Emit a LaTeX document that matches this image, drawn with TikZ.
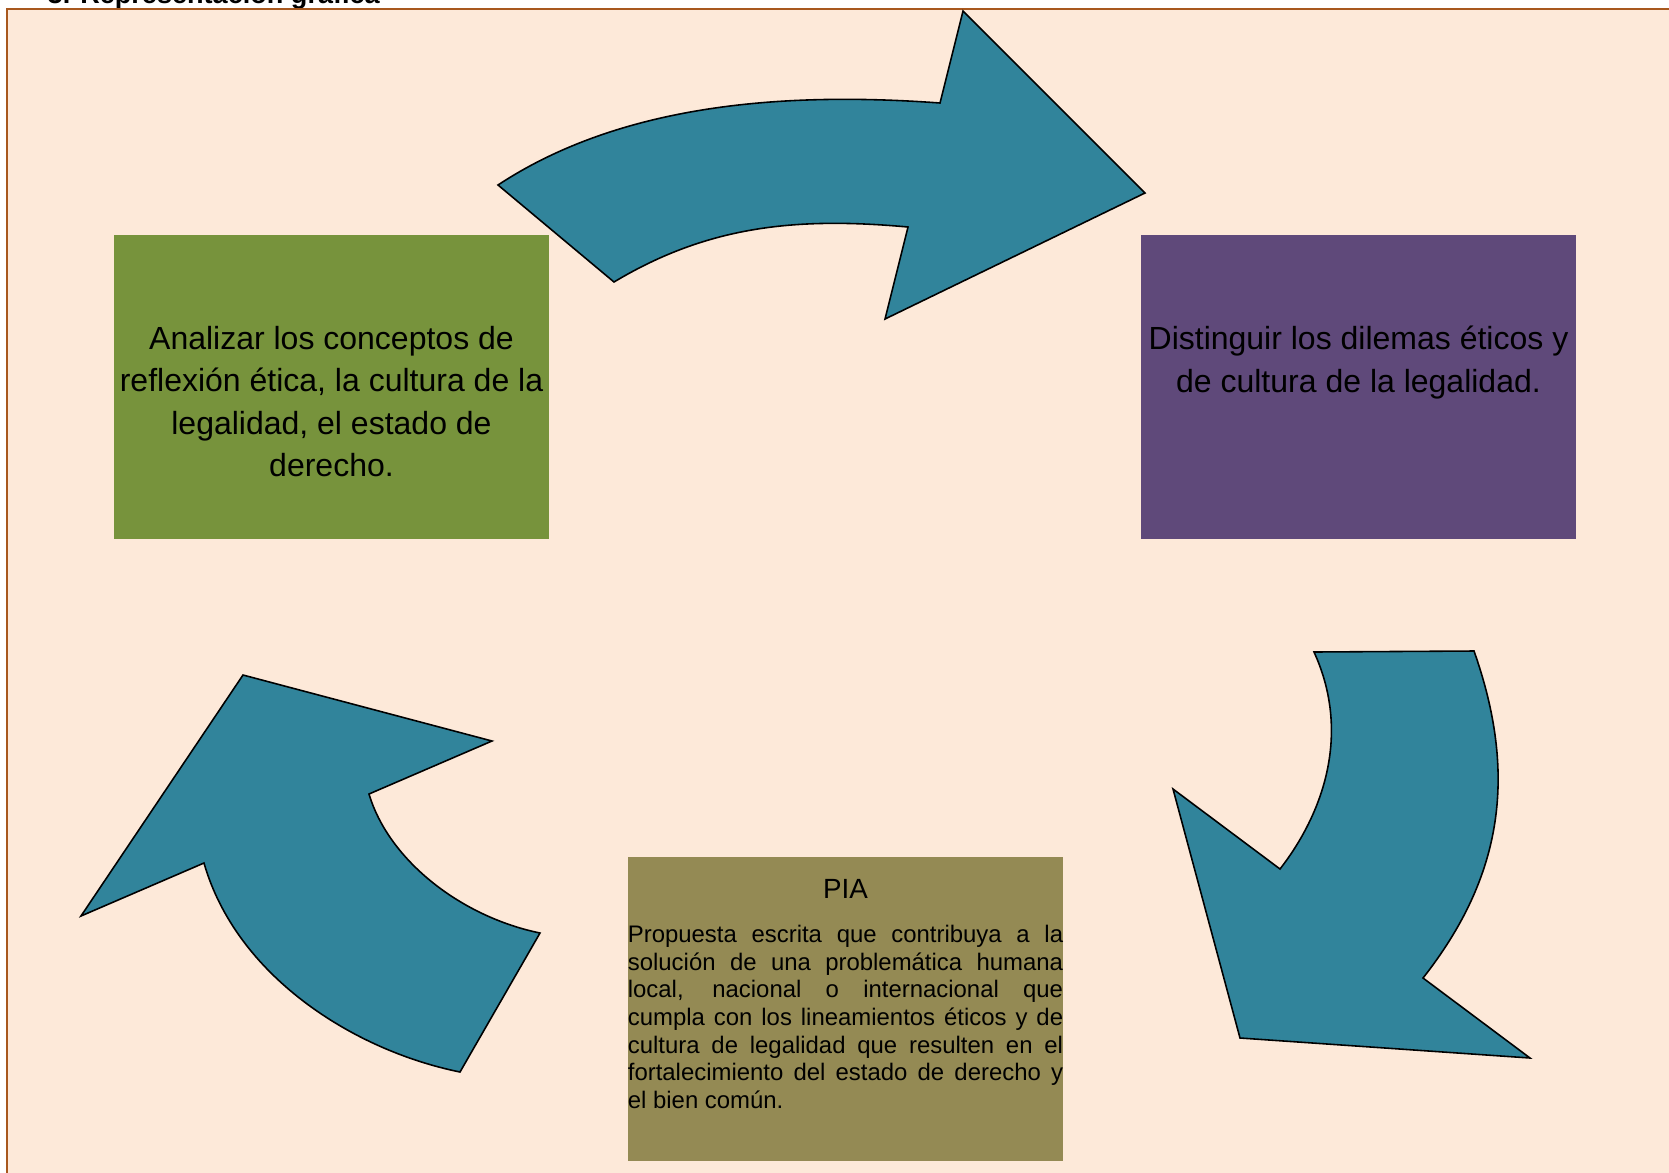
\documentclass[tikz,border=0pt]{standalone}
\usepackage{fontspec}
\setmainfont{Liberation Sans}
\usetikzlibrary{positioning}

\definecolor{fondo}{HTML}{FDE9D9}
\definecolor{marco}{HTML}{A8581E}
\definecolor{flecha}{HTML}{31849B}
\definecolor{verde}{HTML}{77933C}
\definecolor{morado}{HTML}{5F497A}
\definecolor{oliva}{HTML}{948A54}

\begin{document}
\begin{tikzpicture}[x=0.01cm, y=-0.01cm,
		caja/.style={rectangle, inner sep=0pt, minimum width=4.34cm, minimum height=3.04cm},
		flechas/.style={draw=black, fill=flecha, line width=0.45pt, line join=miter},
		texto/.style={inner sep=0pt, align=center, font=\fontsize{9.1}{12.1}\selectfont}]
				\useasboundingbox (0,0) rectangle (1669,1172);

				% 枠
				\node[anchor=base west, inner sep=0pt, font=\bfseries\fontsize{7.7}{9}\selectfont] (titulo) at (47, 3) {3. Representación gráfica};
				\draw[draw=marco, line width=0.57pt, fill=fondo] (7, 8.5) rectangle (1700, 1200);

				% 矢印
				\draw[flechas] (498,185) .. controls (624,102) and (790,92) .. (940,103) -- (963,11) -- (1145,193) -- (885,319) -- (908,227)
					.. controls (798,217) and (709,225) .. (614,282) -- cycle;
				\draw[flechas] (1314,652) -- (1474,651) .. controls (1517,773) and (1504,875) .. (1423,978) -- (1530,1058) -- (1240,1038) -- (1173,789) -- (1280,869)
					.. controls (1322,815) and (1352,735) .. (1314,652) -- cycle;
				\draw[flechas] (243,675) -- (492,741) -- (369,794) .. controls (389,861) and (462,917) .. (540,933) -- (460,1072)
					.. controls (352,1050) and (236,975) .. (204,863) -- (81,916) -- cycle;

				% 箱
				\node[caja, fill=verde] (A) at (331.5, 387) {};
				\node[caja, fill=morado] (B) at (1358.5, 387) {};
				\node[caja, fill=oliva, minimum width=4.35cm] (C) at (845.5, 1009) {};

				% 文字を入れる
				\node[texto, below=0.91cm of A.north] (tA) {Analizar los conceptos de\\reflexión ética, la cultura de la\\legalidad, el estado de\\derecho.};
				\node[texto, below=0.91cm of B.north] (tB) {Distinguir los dilemas éticos y\\de cultura de la legalidad.};
				\node[texto, font=\fontsize{7.9}{9}\selectfont, below=0.22cm of C.north] (tC) {PIA};
				\node[inner sep=0pt, text width=4.35cm, align=justify, font=\fontsize{6.8}{7.88}\selectfont, below=0.68cm of C.north] (dC)
					{Propuesta escrita que contribuya a la\linebreak solución de una problemática humana\linebreak local, nacional o internacional que\linebreak cumpla con los lineamientos éticos y de\linebreak cultura de legalidad que resulten en el\linebreak fortalecimiento del estado de derecho y\linebreak el bien común.};
			\end{tikzpicture}
\end{document}
